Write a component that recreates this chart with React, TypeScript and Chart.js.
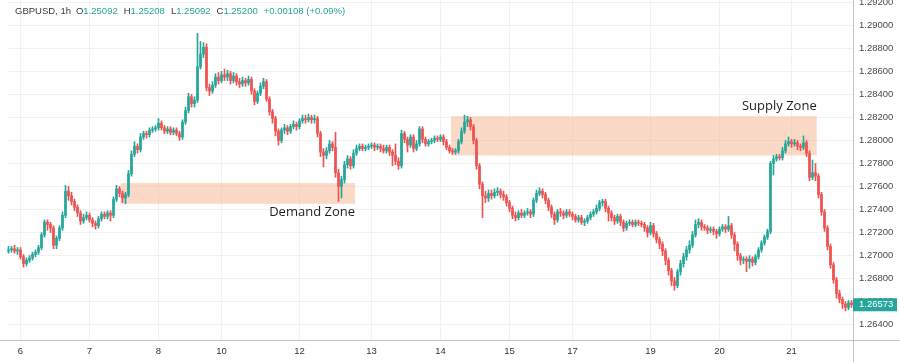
import React, { useEffect, useRef } from 'react';
import { Chart, registerables } from 'chart.js';

Chart.register(...registerables);

// ---- data ----
const firstOpen = 1.2704;
const closes = [
  1.2705, 1.2706, 1.2704, 1.2705, 1.2699, 1.2693, 1.2696, 1.2698, 1.2701, 1.2703,
  1.2707, 1.2718, 1.2729, 1.2727, 1.2724, 1.2709, 1.2715, 1.2724, 1.2735, 1.2756,
  1.2752, 1.2747, 1.2742, 1.2737, 1.2730, 1.2733, 1.2735, 1.2731, 1.2728, 1.2726,
  1.2732, 1.2736, 1.2734, 1.2737, 1.2735, 1.2749, 1.2758, 1.2754, 1.2750, 1.2753,
  1.2771, 1.2788, 1.2795, 1.2792, 1.2803, 1.2806, 1.2805, 1.2809, 1.2810, 1.2811,
  1.2815, 1.2811, 1.2808, 1.2810, 1.2807, 1.2809, 1.2806, 1.2803, 1.2816, 1.2826,
  1.2838, 1.2832, 1.2835, 1.2864, 1.2875, 1.2881, 1.2846, 1.2843, 1.2848, 1.2855,
  1.2852, 1.2857, 1.2855, 1.2858, 1.2852, 1.2856, 1.2851, 1.2849, 1.2852, 1.2850,
  1.2853, 1.2843, 1.2834, 1.2841, 1.2847, 1.2851, 1.2836, 1.2825, 1.2819, 1.2808,
  1.2800, 1.2809, 1.2811, 1.2808, 1.2812, 1.2814, 1.2812, 1.2817, 1.2819, 1.2818,
  1.2820, 1.2818, 1.2819, 1.2806, 1.2790, 1.2787, 1.2791, 1.2797, 1.2794, 1.2772,
  1.2760, 1.2766, 1.2779, 1.2784, 1.2778, 1.2789, 1.2793, 1.2795, 1.2793, 1.2794,
  1.2795, 1.2796, 1.2794, 1.2795, 1.2793, 1.2791, 1.2794, 1.2790, 1.2787, 1.2782,
  1.2778, 1.2806, 1.2801, 1.2796, 1.2803, 1.2793, 1.2797, 1.2810, 1.2801, 1.2797,
  1.2799, 1.2800, 1.2802, 1.2801, 1.2803, 1.2799, 1.2794, 1.2791, 1.2790, 1.2791,
  1.2799, 1.2808, 1.2816, 1.2818, 1.2812, 1.2800, 1.2778, 1.2762, 1.2752, 1.2750,
  1.2754, 1.2752, 1.2755, 1.2756, 1.2753, 1.2751, 1.2746, 1.2741, 1.2735, 1.2733,
  1.2737, 1.2735, 1.2737, 1.2738, 1.2736, 1.2748, 1.2754, 1.2756, 1.2753, 1.2748,
  1.2742, 1.2736, 1.2731, 1.2738, 1.2737, 1.2735, 1.2738, 1.2736, 1.2734, 1.2731,
  1.2733, 1.2729, 1.2730, 1.2733, 1.2736, 1.2738, 1.2741, 1.2746, 1.2747, 1.2741,
  1.2737, 1.2733, 1.2730, 1.2734, 1.2729, 1.2724, 1.2728, 1.2729, 1.2727, 1.2729,
  1.2728, 1.2727, 1.2724, 1.2720, 1.2726, 1.2719, 1.2714, 1.2710, 1.2704, 1.2696,
  1.2687, 1.2678, 1.2674, 1.2686, 1.2693, 1.2699, 1.2705, 1.2709, 1.2718, 1.2727,
  1.2729, 1.2725, 1.2724, 1.2722, 1.2723, 1.2721, 1.2719, 1.2723, 1.2725, 1.2723,
  1.2726, 1.2718, 1.2710, 1.2700, 1.2696, 1.2697, 1.2695, 1.2697, 1.2694, 1.2699,
  1.2705, 1.2711, 1.2716, 1.2721, 1.2780, 1.2784, 1.2786, 1.2785, 1.2791, 1.2797,
  1.2799, 1.2797, 1.2798, 1.2795, 1.2794, 1.2798, 1.2789, 1.2768, 1.2772, 1.2769,
  1.2753, 1.2738, 1.2724, 1.2708, 1.2692, 1.2679, 1.2667, 1.2662, 1.2658, 1.2655, 1.2659, 1.26573,
];
const highs = [
  1.2708, 1.2708, 1.2709, 1.2707, 1.2707, 1.2701, 1.2698, 1.2700, 1.2703, 1.2705,
  1.2709, 1.2720, 1.2731, 1.2731, 1.2729, 1.2726, 1.2717, 1.2726, 1.2738, 1.2761,
  1.2760, 1.2755, 1.2749, 1.2744, 1.2739, 1.2736, 1.2738, 1.2737, 1.2733, 1.2730,
  1.2734, 1.2738, 1.2738, 1.2739, 1.2739, 1.2751, 1.2761, 1.2760, 1.2756, 1.2755,
  1.2774, 1.2791, 1.2799, 1.2797, 1.2806, 1.2808, 1.2808, 1.2811, 1.2812, 1.2813,
  1.2819, 1.2817, 1.2813, 1.2812, 1.2812, 1.2811, 1.2811, 1.2808, 1.2818, 1.2829,
  1.2841, 1.2840, 1.2838, 1.2893, 1.2886, 1.2885, 1.2884, 1.2849, 1.2851, 1.2858,
  1.2859, 1.2860, 1.2862, 1.2861, 1.2860, 1.2859, 1.2858, 1.2854, 1.2855, 1.2854,
  1.2856, 1.2855, 1.2845, 1.2843, 1.2850, 1.2854, 1.2853, 1.2838, 1.2827, 1.2821,
  1.2810, 1.2811, 1.2814, 1.2813, 1.2814, 1.2817, 1.2816, 1.2819, 1.2822, 1.2822,
  1.2823, 1.2822, 1.2822, 1.2821, 1.2808, 1.2793, 1.2794, 1.2800, 1.2799, 1.2807,
  1.2775, 1.2769, 1.2782, 1.2787, 1.2786, 1.2792, 1.2796, 1.2797, 1.2797, 1.2796,
  1.2797, 1.2798, 1.2798, 1.2797, 1.2797, 1.2796, 1.2796, 1.2796, 1.2792, 1.2797,
  1.2785, 1.2809, 1.2808, 1.2803, 1.2805, 1.2805, 1.2800, 1.2812, 1.2812, 1.2803,
  1.2801, 1.2802, 1.2804, 1.2804, 1.2805, 1.2805, 1.2801, 1.2796, 1.2793, 1.2793,
  1.2801, 1.2811, 1.2822, 1.2821, 1.2820, 1.2814, 1.2802, 1.2780, 1.2764, 1.2756,
  1.2757, 1.2757, 1.2758, 1.2759, 1.2758, 1.2756, 1.2753, 1.2748, 1.2743, 1.2738,
  1.2739, 1.2740, 1.2739, 1.2741, 1.2740, 1.2750, 1.2757, 1.2759, 1.2758, 1.2755,
  1.2750, 1.2744, 1.2738, 1.2740, 1.2741, 1.2739, 1.2740, 1.2740, 1.2738, 1.2736,
  1.2735, 1.2735, 1.2732, 1.2735, 1.2738, 1.2740, 1.2744, 1.2748, 1.2749, 1.2749,
  1.2743, 1.2739, 1.2735, 1.2736, 1.2736, 1.2731, 1.2730, 1.2731, 1.2731, 1.2731,
  1.2731, 1.2730, 1.2729, 1.2726, 1.2729, 1.2728, 1.2721, 1.2716, 1.2712, 1.2706,
  1.2698, 1.2689, 1.2681, 1.2688, 1.2696, 1.2702, 1.2708, 1.2713, 1.2721, 1.2731,
  1.2732, 1.2731, 1.2727, 1.2726, 1.2725, 1.2725, 1.2723, 1.2725, 1.2727, 1.2727,
  1.2734, 1.2728, 1.2720, 1.2712, 1.2702, 1.2699, 1.2699, 1.2700, 1.2699, 1.2701,
  1.2707, 1.2713, 1.2718, 1.2723, 1.2782, 1.2787, 1.2788, 1.2788, 1.2794, 1.2800,
  1.2803, 1.2801, 1.2801, 1.2800, 1.2797, 1.2804, 1.2800, 1.2791, 1.2783, 1.2780,
  1.2771, 1.2755, 1.2740, 1.2726, 1.2710, 1.2694, 1.2681, 1.2670, 1.2664, 1.2660, 1.2661, 1.2661,
];
const lows = [
  1.2702, 1.2703, 1.2702, 1.2701, 1.2697, 1.2690, 1.2691, 1.2694, 1.2696, 1.2699,
  1.2701, 1.2705, 1.2716, 1.2722, 1.2720, 1.2706, 1.2706, 1.2713, 1.2722, 1.2733,
  1.2748, 1.2744, 1.2739, 1.2734, 1.2727, 1.2728, 1.2731, 1.2729, 1.2725, 1.2723,
  1.2724, 1.2730, 1.2732, 1.2732, 1.2730, 1.2733, 1.2747, 1.2751, 1.2746, 1.2745,
  1.2751, 1.2769, 1.2786, 1.2789, 1.2790, 1.2801, 1.2802, 1.2803, 1.2807, 1.2808,
  1.2809, 1.2809, 1.2806, 1.2806, 1.2805, 1.2805, 1.2804, 1.2800, 1.2801, 1.2814,
  1.2824, 1.2829, 1.2829, 1.2833, 1.2862, 1.2872, 1.2843, 1.2839, 1.2841, 1.2846,
  1.2849, 1.2850, 1.2852, 1.2852, 1.2849, 1.2850, 1.2848, 1.2846, 1.2847, 1.2847,
  1.2848, 1.2840, 1.2831, 1.2832, 1.2839, 1.2845, 1.2834, 1.2822, 1.2815, 1.2804,
  1.2796, 1.2798, 1.2806, 1.2805, 1.2806, 1.2810, 1.2809, 1.2810, 1.2815, 1.2815,
  1.2816, 1.2815, 1.2815, 1.2803, 1.2786, 1.2777, 1.2784, 1.2789, 1.2791, 1.2768,
  1.2747, 1.2750, 1.2763, 1.2776, 1.2775, 1.2776, 1.2787, 1.2791, 1.2791, 1.2791,
  1.2792, 1.2793, 1.2791, 1.2792, 1.2790, 1.2789, 1.2789, 1.2787, 1.2778, 1.2779,
  1.2775, 1.2776, 1.2798, 1.2790, 1.2794, 1.2790, 1.2791, 1.2795, 1.2798, 1.2795,
  1.2795, 1.2797, 1.2798, 1.2799, 1.2799, 1.2796, 1.2792, 1.2789, 1.2788, 1.2788,
  1.2789, 1.2797, 1.2806, 1.2812, 1.2809, 1.2797, 1.2775, 1.2758, 1.2733, 1.2746,
  1.2747, 1.2749, 1.2750, 1.2752, 1.2750, 1.2748, 1.2743, 1.2738, 1.2732, 1.2730,
  1.2731, 1.2733, 1.2733, 1.2735, 1.2733, 1.2734, 1.2746, 1.2752, 1.2750, 1.2745,
  1.2739, 1.2733, 1.2727, 1.2729, 1.2734, 1.2732, 1.2733, 1.2734, 1.2731, 1.2729,
  1.2729, 1.2727, 1.2726, 1.2728, 1.2731, 1.2734, 1.2736, 1.2739, 1.2743, 1.2738,
  1.2730, 1.2730, 1.2727, 1.2728, 1.2726, 1.2721, 1.2722, 1.2726, 1.2725, 1.2725,
  1.2726, 1.2725, 1.2721, 1.2716, 1.2718, 1.2716, 1.2711, 1.2706, 1.2700, 1.2692,
  1.2683, 1.2674, 1.2670, 1.2672, 1.2683, 1.2690, 1.2696, 1.2702, 1.2707, 1.2716,
  1.2724, 1.2722, 1.2722, 1.2719, 1.2720, 1.2718, 1.2715, 1.2717, 1.2721, 1.2720,
  1.2721, 1.2715, 1.2704, 1.2696, 1.2692, 1.2693, 1.2686, 1.2689, 1.2691, 1.2692,
  1.2697, 1.2703, 1.2709, 1.2714, 1.2719, 1.2770, 1.2782, 1.2783, 1.2783, 1.2789,
  1.2795, 1.2794, 1.2795, 1.2792, 1.2791, 1.2792, 1.2786, 1.2765, 1.2766, 1.2765,
  1.2750, 1.2735, 1.2721, 1.2705, 1.2689, 1.2676, 1.2663, 1.2659, 1.2654, 1.2652, 1.2653, 1.2655,
];

// day labels on the time axis (candle index -> label)
const dayTickIndex = [4, 27, 50, 71, 97, 121, 144, 167, 188, 214, 237, 261];
const dayTickLabel = ['6', '7', '8', '10', '12', '13', '14', '15', '17', '19', '20', '21'];

// price axis
const priceMin = 1.26267;
const priceMax = 1.2922;
const priceTicks = [
  1.264, 1.266, 1.268, 1.27, 1.272, 1.274, 1.276, 1.278,
  1.28, 1.282, 1.284, 1.286, 1.288, 1.29, 1.292,
];
const lastPrice = 1.26573;

// zones: candle index range and price range
const zoneNames = ['Demand Zone', 'Supply Zone'];
const zoneStart = [37.4, 147.5];
const zoneEnd = [115.5, 269.4];
const zoneTop = [1.2763, 1.2821];
const zoneBottom = [1.2745, 1.2787];

// header legend
const headerSymbol = 'GBPUSD, 1h';
const headerKeys = ['O', 'H', 'L', 'C'];
const headerValues = ['1.25092', '1.25208', '1.25092', '1.25200'];
const headerChange = '+0.00108 (+0.09%)';

const UP = '#26a69a';
const DOWN = '#ef5350';
const AXIS_FONT = "'Liberation Sans', Arial, sans-serif";

export default function App() {
  const ref = useRef<HTMLCanvasElement>(null);

  useEffect(() => {
    const canvas = ref.current;
    if (!canvas) return;
    const opens = [firstOpen, ...closes.slice(0, -1)];
    const labels = closes.map((_, i) => {
      const k = dayTickIndex.indexOf(i);
      return k >= 0 ? dayTickLabel[k] : '';
    });
    const colors = closes.map((c, i) => (c >= opens[i] ? UP : DOWN));
    const bodies = closes.map((c, i) => [opens[i], c]);
    const wicks = closes.map((_, i) => [lows[i], highs[i]]);

    const overlay = {
      id: 'overlay',
      beforeDatasetsDraw(chart: any) {
        const { ctx, scales } = chart;
        ctx.save();
        ctx.fillStyle = 'rgba(248, 182, 148, 0.52)';
        for (let z = 0; z < zoneNames.length; z++) {
          const x0 = scales.x.getPixelForValue(zoneStart[z]);
          const x1 = scales.x.getPixelForValue(zoneEnd[z]);
          const y0 = scales.y.getPixelForValue(zoneTop[z]);
          const y1 = scales.y.getPixelForValue(zoneBottom[z]);
          ctx.fillRect(x0, y0, x1 - x0, y1 - y0);
        }
        ctx.restore();
      },
      afterDatasetsDraw(chart: any) {
        const { ctx, scales } = chart;
        ctx.save();
        ctx.font = "13px 'Open Sans', sans-serif";
        ctx.fillStyle = '#1f1f1f';
        ctx.textAlign = 'right';
        ctx.textBaseline = 'middle';
        const dx = scales.x.getPixelForValue(zoneEnd[0]);
        const dy = scales.y.getPixelForValue(zoneBottom[0]);
        ctx.fillText(zoneNames[0], dx, dy + 9);
        const sx = scales.x.getPixelForValue(zoneEnd[1]);
        const sy = scales.y.getPixelForValue(zoneTop[1]);
        ctx.fillText(zoneNames[1], sx, sy - 10);
        ctx.restore();
      },
      afterDraw(chart: any) {
        const { ctx, chartArea, scales, width, height } = chart;
        ctx.save();
        ctx.strokeStyle = '#c4c4c4';
        ctx.lineWidth = 1;
        ctx.beginPath();
        ctx.moveTo(Math.round(chartArea.right) + 0.5, 0);
        ctx.lineTo(Math.round(chartArea.right) + 0.5, height);
        ctx.moveTo(0, Math.round(chartArea.bottom) + 0.5);
        ctx.lineTo(width, Math.round(chartArea.bottom) + 0.5);
        ctx.stroke();

        const ly = scales.y.getPixelForValue(lastPrice);
        ctx.fillStyle = UP;
        ctx.fillRect(chartArea.right, ly - 6.5, 44, 13);
        ctx.fillStyle = '#ffffff';
        ctx.font = `9.5px ${AXIS_FONT}`;
        ctx.textAlign = 'left';
        ctx.textBaseline = 'middle';
        ctx.fillText(lastPrice.toFixed(5), chartArea.right + 6, ly);

        ctx.font = `9.5px ${AXIS_FONT}`;
        ctx.textBaseline = 'middle';
        let x = 15;
        const hy = 11;
        ctx.fillStyle = '#3a3a3a';
        ctx.fillText(headerSymbol, x, hy);
        x += ctx.measureText(headerSymbol).width + 5;
        for (let k = 0; k < headerKeys.length; k++) {
          ctx.fillStyle = '#3a3a3a';
          ctx.fillText(headerKeys[k], x, hy);
          x += ctx.measureText(headerKeys[k]).width;
          ctx.fillStyle = UP;
          ctx.fillText(headerValues[k], x, hy);
          x += ctx.measureText(headerValues[k]).width + 6;
        }
        ctx.fillStyle = UP;
        ctx.fillText(headerChange, x, hy);
        ctx.restore();
      },
    };

    const chart = new Chart(canvas, {
      type: 'bar',
      data: {
        labels,
        datasets: [
          {
            data: bodies as any,
            backgroundColor: colors,
            barThickness: 2,
            minBarLength: 1,
            grouped: false,
            borderWidth: 0,
            borderSkipped: false,
          },
          {
            data: wicks as any,
            backgroundColor: colors,
            barThickness: 1,
            grouped: false,
            borderWidth: 0,
            borderSkipped: false,
          },
        ],
      },
      options: {
        animation: false,
        responsive: false,
        devicePixelRatio: 1,
        layout: { padding: { left: 7, right: 0, top: 0, bottom: 0 } },
        plugins: { legend: { display: false }, tooltip: { enabled: false } },
        scales: {
          x: {
            type: 'category',
            offset: true,
            grid: { offset: false, color: '#f1f1f1', drawTicks: false },
            border: { display: false },
            ticks: {
              autoSkip: false,
              maxRotation: 0,
              padding: 6,
              color: '#333333',
              font: { family: AXIS_FONT, size: 9.5 },
            },
            afterBuildTicks: (scale: any) => {
              scale.ticks = scale.ticks.filter((t: any) => dayTickIndex.includes(t.value));
            },
            afterFit: (scale: any) => {
              scale.height = 22;
              scale.paddingLeft = 0;
              scale.paddingRight = 0;
            },
          },
          y: {
            type: 'linear',
            position: 'right',
            min: priceMin,
            max: priceMax,
            bounds: 'data',
            grid: { color: '#f1f1f1', drawTicks: false },
            border: { display: false },
            ticks: {
              padding: 6,
              color: '#4a4a4a',
              font: { family: AXIS_FONT, size: 9.5 },
              callback: (v: any) => Number(v).toFixed(5),
            },
            afterBuildTicks: (scale: any) => {
              scale.ticks = priceTicks.map((v) => ({ value: v }));
            },
            afterFit: (scale: any) => {
              scale.width = 47;
              scale.paddingTop = 0;
              scale.paddingBottom = 0;
            },
          },
        },
      } as any,
      plugins: [overlay],
    });

    return () => chart.destroy();
  }, []);

  return (
    <div style={{ position: 'fixed', left: 0, top: 0, width: 900, height: 362, background: '#ffffff' }}>
      <canvas ref={ref} width={900} height={362} style={{ display: 'block' }} />
    </div>
  );
}
